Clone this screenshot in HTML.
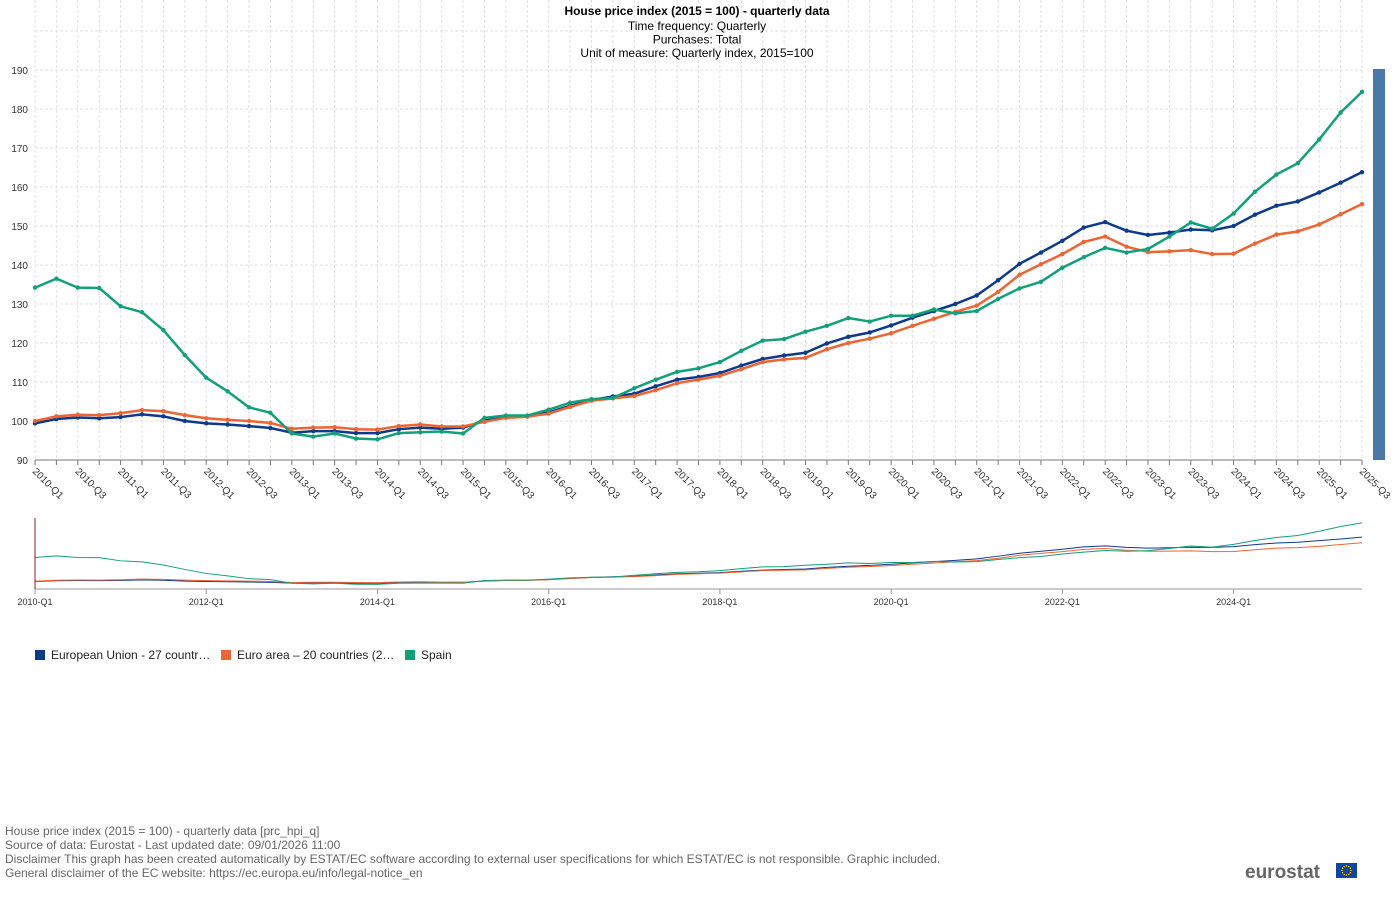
<!DOCTYPE html>
<html><head><meta charset="utf-8"><style>
body{margin:0;background:#fff;font-family:"Liberation Sans",Arial,sans-serif;}
svg text{font-family:"Liberation Sans",Arial,sans-serif;}
</style></head><body>
<svg id="c" width="1394" height="899">
<g id="g"></g>
</svg>
<script>
const quarters=[];for(let y=2010;y<=2025;y++)for(let q=1;q<=4;q++){if(y===2025&&q>3)break;quarters.push(y+'-Q'+q);}
const euValues=[99.4,100.5,100.9,100.7,101.0,101.7,101.2,100.0,99.4,99.1,98.7,98.2,97.0,97.4,97.4,96.9,96.9,97.9,98.3,98.0,98.3,100.1,101.0,101.2,102.2,103.9,105.4,106.3,107.0,108.9,110.6,111.3,112.3,114.2,115.9,116.8,117.5,119.9,121.6,122.7,124.5,126.5,128.2,130.0,132.2,136.1,140.3,143.2,146.2,149.6,151.0,148.8,147.7,148.3,149.1,148.9,150.0,152.9,155.2,156.3,158.6,161.1,163.8];
const eaValues=[100.0,101.2,101.6,101.5,102.0,102.8,102.5,101.5,100.7,100.3,100.0,99.5,98.0,98.3,98.4,97.9,97.8,98.7,99.1,98.6,98.6,99.8,100.8,101.1,101.9,103.6,105.2,105.8,106.4,107.9,109.7,110.6,111.6,113.3,115.1,115.8,116.2,118.4,120.0,121.1,122.5,124.4,126.2,128.0,129.6,133.1,137.5,140.2,142.8,145.9,147.3,144.7,143.3,143.5,143.8,142.8,142.9,145.5,147.8,148.6,150.4,153.0,155.6];
const esValues=[134.2,136.5,134.2,134.1,129.4,127.9,123.3,116.9,111.1,107.6,103.5,102.1,96.8,96.0,96.8,95.5,95.3,96.9,97.1,97.3,96.8,100.8,101.4,101.4,102.9,104.7,105.6,105.9,108.4,110.6,112.6,113.5,115.1,118.0,120.6,121.0,122.9,124.4,126.4,125.5,127.0,127.0,128.6,127.6,128.2,131.3,134.0,135.7,139.3,142.0,144.4,143.2,144.1,147.3,150.9,149.3,153.2,158.8,163.2,166.1,172.2,179.1,184.4];
const yTicks=[90,100,110,120,130,140,150,160,170,180,190];
const seriesNames=["European Union - 27 countr…","Euro area – 20 countries (2…","Spain"];
const colors=["#0e3a8c","#ec6535","#12a07a"];
const NS="http://www.w3.org/2000/svg",g=document.getElementById('g');
function el(t,a,p){const e=document.createElementNS(NS,t);for(const k in a)e.setAttribute(k,a[k]);(p||g).appendChild(e);return e;}
const X0=35,X1=1362,Y0=460,Y1=70;
const x=i=>X0+(X1-X0)*i/(quarters.length-1);
const y=v=>Y0-(v-90)*(Y0-Y1)/100;
const ny=v=>588-(v-90)*0.69;
function tx(s,a){const e=el('text',a);e.textContent=s;return e;}
// grid
for(let i=0;i<quarters.length;i++){const l=el('line',{x1:x(i),x2:x(i),y1:0,y2:Y0,stroke:'#e0e0e0','stroke-dasharray':'3,2'});
}
[...yTicks,200].forEach(v=>{const l=el('line',{x1:X0,x2:X1,y1:y(v),y2:y(v),stroke:'#e0e0e0','stroke-dasharray':'3,2'});
});
// titles
let t;
t=tx("House price index (2015 = 100) - quarterly data",{x:697,y:15,'text-anchor':'middle','font-size':12,'font-weight':'bold',fill:'#000',stroke:'#fff','stroke-width':3,'paint-order':'stroke'});

["Time frequency:  Quarterly","Purchases:  Total","Unit of measure:  Quarterly index, 2015=100"].forEach((s,i)=>{const e=tx(s,{x:697,y:30+i*13.5,'text-anchor':'middle','font-size':12,fill:'#000',stroke:'#fff','stroke-width':3,'paint-order':'stroke'});
});
yTicks.forEach(v=>{const e=tx(String(v),{x:28,y:y(v)+4,'text-anchor':'end','font-size':10,fill:'#333'});
});
const ax=el('line',{x1:X0,x2:X1,y1:Y0,y2:Y0,stroke:'#777'});
quarters.forEach((q,i)=>{const tk=el('line',{x1:x(i),x2:x(i),y1:Y0,y2:Y0+5,stroke:'#777'});
if(i%2===0){const e=tx(q,{x:x(i)-3,y:Y0+12,'font-size':10,fill:'#333',transform:`rotate(45 ${x(i)-3} ${Y0+12})`});
}});
// series
[euValues,eaValues,esValues].forEach((vals,s)=>{
const pl=el('polyline',{points:vals.map((v,i)=>x(i)+','+y(v)).join(' '),fill:'none',stroke:colors[s],'stroke-width':2.5,'stroke-linejoin':'round'});

vals.forEach((v,i)=>{const c=el('circle',{cx:x(i),cy:y(v),r:2.2,fill:colors[s]});});
const nl=el('polyline',{points:vals.map((v,i)=>x(i)+','+ny(v)).join(' '),fill:'none',stroke:colors[s],'stroke-width':1});

});
// scrollbar
const sb=el('rect',{x:1373,y:69,width:12,height:391,fill:'#4a78a8'});
// navigator
const na=el('line',{x1:X0,x2:X1,y1:589,y2:589,stroke:'#999'});
const nh=el('line',{x1:X0,x2:X0,y1:518,y2:589,stroke:'#8b2222'});
quarters.forEach((q,i)=>{if(i%8===0){const k=el('line',{x1:x(i),x2:x(i),y1:589,y2:594,stroke:'#999'});
const e=tx(q,{x:x(i),y:605,'text-anchor':'middle','font-size':9,fill:'#333'});}});
// legend
const lx=[35,221,405];
seriesNames.forEach((n,s)=>{const r=el('rect',{x:lx[s],y:650,width:10,height:10,fill:colors[s]});
const e=tx(n,{x:lx[s]+16,y:659,'font-size':12,fill:'#222'});});
// footer
["House price index (2015 = 100) - quarterly data [prc_hpi_q]","Source of data: Eurostat - Last updated date: 09/01/2026 11:00","Disclaimer This graph has been created automatically by ESTAT/EC software according to external user specifications for which ESTAT/EC is not responsible. Graphic included.","General disclaimer of the EC website: https://ec.europa.eu/info/legal-notice_en"].forEach((s,i)=>{
const e=tx(s,{x:5,y:835+i*14,'font-size':12,fill:'#666'});});
const lg=tx("eurostat",{x:1245,y:878,'font-size':19,'font-weight':'bold',fill:'#666'});
const fl=el('rect',{x:1336,y:863,width:21,height:15,fill:'#0e47a1'});
for(let k=0;k<12;k++){const a=k*Math.PI/6;const c=el('circle',{cx:1346.5+4.5*Math.cos(a),cy:870.5+4.5*Math.sin(a),r:0.7,fill:'#ffd400'});}
</script>
</body></html>
